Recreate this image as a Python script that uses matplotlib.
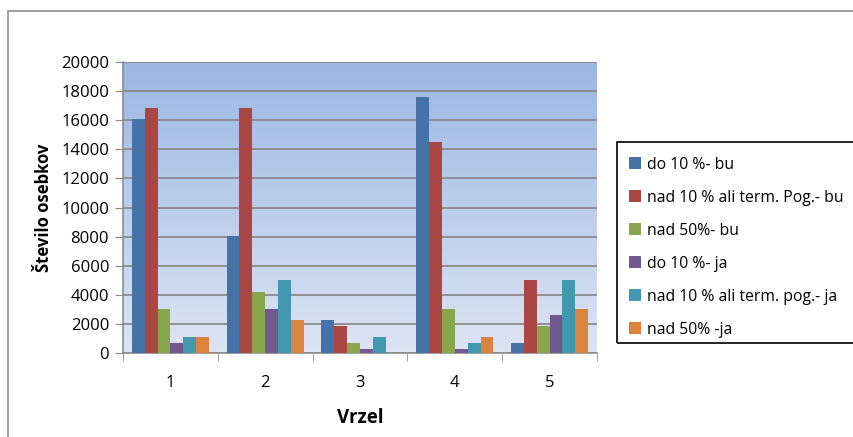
import numpy as np
import matplotlib.pyplot as plt
from matplotlib.colors import LinearSegmentedColormap
from matplotlib.patches import Rectangle

plt.rcParams['font.family'] = ['Open Sans', 'DejaVu Sans']

categories = ['1', '2', '3', '4', '5']
series_names = ['do 10 %- bu', 'nad 10 % ali term. Pog.- bu', 'nad 50%- bu',
                'do 10 %- ja', 'nad 10 % ali term. pog.- ja', 'nad 50% -ja']
do10_bu = [16100, 8050, 2300, 17600, 700]
nad10_bu = [16850, 16850, 1880, 14500, 5000]
nad50_bu = [3050, 4200, 700, 3050, 1880]
do10_ja = [700, 3050, 300, 300, 2630]
nad10_ja = [1100, 5000, 1100, 700, 5000]
nad50_ja = [1100, 2300, 0, 1100, 3050]
series = [do10_bu, nad10_bu, nad50_bu, do10_ja, nad10_ja, nad50_ja]
colors = ['#4572A7', '#AA4643', '#89A54E', '#71588F', '#4198AF', '#DB843D']

W, H = 854, 437
fig = plt.figure(figsize=(W / 100, H / 100), dpi=100)

# outer chart border
fig.add_artist(Rectangle((8 / W, -0.1), 1.2, 1 - 11 / H + 0.1, transform=fig.transFigure,
                         fill=False, edgecolor='#8c8c8c', linewidth=1.2))

left, right, top, bottom = 123, 597, 62, 353
ax = fig.add_axes([left / W, 1 - bottom / H, (right - left) / W, (bottom - top) / H])

x = np.arange(len(categories))
bw = 0.136
for i, (vals, c, name) in enumerate(zip(series, colors, series_names)):
    ax.bar(x + (i - 2.5) * bw, vals, width=bw, color=c, label=name, zorder=3)

# gradient background
grad = LinearSegmentedColormap.from_list('bg', ['#dde4f3', '#9bb7e4'])
ax.imshow(np.linspace(0, 1, 256).reshape(-1, 1), cmap=grad, origin='lower',
          extent=[-0.5, 4.5, 0, 20000], aspect='auto', zorder=0)

ax.set_xlim(-0.5, 4.5)
ax.set_ylim(0, 20000)
ax.set_yticks(np.arange(0, 20001, 2000))
ax.set_xticks(x)
ax.set_xticklabels(categories, fontsize=12)
ax.tick_params(axis='y', labelsize=12, length=6, color='#8c8c8c', pad=4)
ax.tick_params(axis='x', length=0, pad=16)
ax.set_xticks(np.arange(-0.5, 4.6, 1), minor=True)
ax.tick_params(axis='x', which='minor', length=6, color='#8c8c8c')
ax.grid(axis='y', color='#8a8a8a', linewidth=1.3, zorder=1)
for s in ['top', 'right']:
    ax.spines[s].set_visible(False)
for s in ['left', 'bottom']:
    ax.spines[s].set_color('#8c8c8c')
    ax.spines[s].set_linewidth(1.2)

ax.set_ylabel('Število osebkov', fontsize=12, fontweight='bold', labelpad=6)
ax.set_xlabel('Vrzel', fontsize=13.5, fontweight='bold', labelpad=12)

# legend box runs past the right edge
fig.add_artist(Rectangle((617 / W, 1 - 343 / H), 0.5, (343 - 142) / H,
                         transform=fig.transFigure, fill=False,
                         edgecolor='black', linewidth=1.2))
leg = fig.legend(loc='upper left', bbox_to_anchor=(617 / W, 1 - 145 / H),
                 frameon=False, fontsize=11.3,
                 handlelength=0.8, handleheight=0.8, handletextpad=0.35,
                 labelspacing=1.08, borderpad=0.75, borderaxespad=0)

fig.savefig('out.png', dpi=100)
